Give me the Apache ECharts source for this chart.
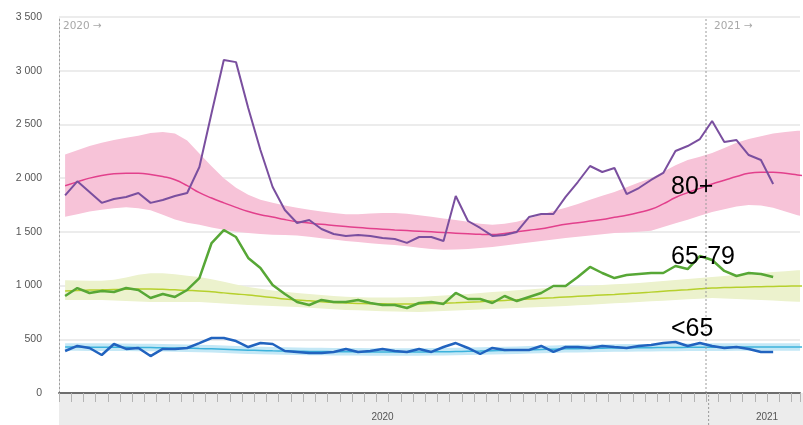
<!DOCTYPE html>
<html>
<head>
<meta charset="utf-8">
<script src="https://cdn.jsdelivr.net/npm/echarts/dist/echarts.min.js"></script>
<style>
html,body{margin:0;padding:0;background:#ffffff;}
#chart{width:803px;height:425px;}
</style>
</head>
<body>
<div id="chart"></div>
<script>
// ---- data (weekly deaths, index 0 = week 1 of 2020; index 53 = week 1 of 2021) ----
const yearLabels = ['2020', '2021'];
const yearLabelAt = [26.5, 58];
const yearStart2021 = 53;

const obs80 = [1840,1970,1870,1770,1806,1825,1862,1770,1797,1834,
  1862,2104,2606,3100,3080,2653,2262,1918,1704,1583,
  1610,1527,1480,1462,1471,1462,1443,1434,1397,1452,
  1452,1415,1834,1601,1536,1462,1471,1499,1638,1666,
  1666,1825,1964,2113,2057,2094,1852,1908,1983,2048,
  2253,2299,2364,2532,2336,2355,2215,2169,1945];
const base80 = [1930,1965,2000,2025,2040,2045,2045,2035,2015,1985,
  1930,1865,1815,1770,1728,1690,1660,1638,1614,1595,
  1582,1570,1560,1550,1540,1532,1525,1518,1512,1506,
  1500,1494,1488,1482,1477,1475,1485,1500,1515,1530,
  1550,1570,1585,1600,1615,1635,1655,1680,1710,1760,
  1820,1865,1905,1945,1980,2015,2045,2055,2055,2045,
  2030,2015];
const hi80 = [2220,2260,2300,2330,2355,2375,2395,2420,2430,2415,
  2350,2230,2110,2000,1910,1845,1800,1770,1745,1725,
  1705,1690,1675,1665,1665,1670,1675,1675,1668,1655,
  1640,1625,1610,1595,1575,1565,1575,1595,1625,1660,
  1695,1725,1760,1800,1835,1870,1915,1960,2000,2060,
  2120,2170,2200,2235,2280,2330,2365,2390,2415,2430,
  2440,2445];
const lo80 = [1640,1665,1690,1705,1720,1730,1720,1700,1660,1615,
  1585,1565,1540,1520,1500,1490,1480,1472,1470,1465,
  1455,1440,1428,1415,1405,1395,1385,1378,1365,1352,
  1340,1333,1335,1340,1350,1360,1372,1387,1400,1415,
  1430,1443,1455,1467,1478,1489,1495,1502,1510,1545,
  1580,1612,1650,1685,1710,1735,1750,1745,1725,1690,
  1655,1625];

const obs6579 = [903,977,931,950,940,977,959,884,921,894,
  959,1070,1396,1517,1452,1257,1164,1005,921,847,
  819,866,847,847,866,838,819,819,791,838,
  847,829,931,875,875,838,903,856,894,931,
  996,996,1080,1173,1117,1070,1098,1108,1117,1117,
  1182,1154,1275,1238,1136,1089,1117,1108,1080];
const base6579 = [950,955,958,960,963,965,967,968,965,960,
  955,950,942,932,922,912,900,888,876,866,
  858,850,843,838,834,831,830,829,829,829,
  832,836,840,845,850,856,862,868,875,881,
  887,894,900,906,912,918,925,931,939,947,
  955,962,970,977,981,984,987,990,992,994,
  996,997];
const hi6579 = [1050,1048,1045,1045,1055,1075,1100,1115,1115,1105,
  1092,1080,1060,1035,1010,987,970,955,942,931,
  922,912,902,895,892,890,890,890,892,894,
  900,907,915,922,931,940,948,956,964,972,
  980,987,993,999,1005,1012,1018,1024,1033,1042,
  1052,1062,1071,1080,1090,1100,1110,1118,1126,1134,
  1142,1148];
const lo6579 = [866,866,866,866,862,857,852,847,847,847,
  847,847,840,833,826,819,814,810,805,801,
  794,787,780,773,770,766,762,759,756,754,
  759,763,768,773,777,782,787,791,796,801,
  805,810,816,822,828,835,841,847,853,859,
  866,872,878,884,880,875,870,865,860,855,
  850,846];

const obsU65 = [391,438,419,354,456,410,419,344,410,410,
  419,465,512,512,484,428,465,456,391,382,
  372,372,382,410,382,391,410,391,382,410,
  382,428,465,419,363,419,400,400,400,438,
  382,428,428,419,438,428,419,438,447,465,
  475,438,465,438,419,428,410,382,382];
const baseU65 = [428,428,427,427,426,425,424,423,421,419,
  417,414,411,407,403,399,396,393,391,389,
  387,386,385,384,383,382,382,382,382,382,
  383,384,386,388,390,393,396,399,402,405,
  408,411,413,415,417,419,420,421,422,423,
  424,425,426,427,427,428,428,428,428,428,
  428,428];
const hiU65 = [463,463,462,462,461,460,459,458,456,454,
  452,449,446,442,438,434,431,428,426,424,
  422,421,420,419,418,417,417,417,417,417,
  418,419,421,423,425,428,431,434,437,440,
  443,446,448,450,452,454,455,456,457,458,
  459,460,461,462,462,463,463,463,463,463,
  463,463];
const loU65 = [393,393,392,392,391,390,389,388,386,384,
  382,379,376,372,368,364,361,358,356,354,
  352,351,350,349,348,347,347,347,347,347,
  348,349,351,353,355,358,361,364,367,370,
  373,376,378,380,382,384,385,386,387,388,
  389,390,391,392,392,393,393,393,393,393,
  393,393];

// ---- helpers ----
const FONT = "'Liberation Sans', Arial, sans-serif";
const X_MAX = 60.7;
function pts(arr) { return arr.map(function (v, i) { return [i + 0.5, v]; }); }

function band(lo, hi, color) {
  return {
    type: 'custom', xAxisIndex: 0, yAxisIndex: 0, silent: true, z: 1,
    data: lo.map(function (v, i) { return [i + 0.5, v, hi[i]]; }),
    encode: { x: 0, y: [1, 2] },
    renderItem: function (params, api) {
      if (params.dataIndex !== 0) return null;
      const top = [], bot = [];
      for (let i = 0; i < lo.length; i++) {
        top.push(api.coord([i + 0.5, hi[i]]));
        bot.push(api.coord([i + 0.5, lo[i]]));
      }
      const cs = params.coordSys;
      return {
        type: 'polygon',
        shape: { points: top.concat(bot.reverse()) },
        style: { fill: color },
        clipPath: { type: 'rect', shape: { x: cs.x, y: cs.y, width: cs.width, height: cs.height } }
      };
    }
  };
}
function line(arr, color, width, smooth, z) {
  return {
    type: 'line', xAxisIndex: 0, yAxisIndex: 0, data: pts(arr),
    symbol: 'none', smooth: smooth, z: z, silent: true,
    lineStyle: { color: color, width: width }
  };
}

const chart = echarts.init(document.getElementById('chart'), null, { renderer: 'canvas' });
chart.setOption({
  animation: false,
  backgroundColor: '#ffffff',
  textStyle: { fontFamily: FONT },
  grid: [
    { left: 59, right: 0, top: 17, bottom: 32 },
    { left: 59, right: 0, top: 393, bottom: 0, show: true, backgroundColor: '#ececec', borderWidth: 0, z: 0 }
  ],
  xAxis: [
    {
      gridIndex: 0, type: 'value', position: 'bottom', min: 0, max: X_MAX, interval: 1, z: 5,
      axisLine: { show: true, lineStyle: { color: '#6e6e6e', width: 2 } },
      axisTick: { show: true, length: 9, lineStyle: { color: '#b4b4b4', width: 1 } },
      axisLabel: { show: false },
      splitLine: { show: false }
    },
    {
      gridIndex: 0, type: 'value', position: 'bottom', offset: 0, min: 0, max: X_MAX, interval: 0.5, z: 5,
      axisLine: { show: false }, axisTick: { show: false }, splitLine: { show: false },
      axisLabel: {
        show: true, margin: 19, color: '#555555', fontSize: 10, fontFamily: FONT,
        formatter: function (v) {
          for (let k = 0; k < yearLabelAt.length; k++) {
            if (Math.abs(v - yearLabelAt[k]) < 1e-6) return yearLabels[k];
          }
          return '';
        }
      }
    },
    { gridIndex: 1, type: 'value', min: 0, max: X_MAX, show: false }
  ],
  yAxis: [
    {
      gridIndex: 0, type: 'value', min: 0, max: 3500, interval: 500,
      axisLine: { show: true, lineStyle: { color: '#a0a0a0', width: 1, type: [2, 2] } },
      axisTick: { show: false },
      axisLabel: {
        margin: 17, color: '#555555', fontSize: 10.5, fontFamily: FONT,
        formatter: function (v) { return String(v).replace(/\B(?=(\d{3})+(?!\d))/g, ' '); }
      },
      splitLine: { show: true, lineStyle: { color: '#e6e6e6', width: 1.5 } }
    },
    { gridIndex: 1, type: 'value', min: 0, max: 1, show: false }
  ],
  series: [
    band(lo80, hi80, '#f7c3d8'),
    band(lo6579, hi6579, '#ecf2cd'),
    band(loU65, hiU65, '#c4e8f6'),
    line(base80, '#e2408c', 1.5, true, 2),
    line(base6579, '#b6d02c', 1.5, true, 2),
    line(baseU65, '#3cb2dc', 1.5, true, 2),
    {
      type: 'line', xAxisIndex: 0, yAxisIndex: 0, symbol: 'none', silent: true, z: 2, clip: false,
      data: [[yearStart2021, 0], [yearStart2021, 3500]],
      lineStyle: { color: '#9a9a9a', width: 1, type: [2, 2] }
    },
    {
      type: 'line', xAxisIndex: 2, yAxisIndex: 1, symbol: 'none', silent: true, z: 2,
      data: [[yearStart2021, 0], [yearStart2021, 1]],
      lineStyle: { color: '#9a9a9a', width: 1, type: [2, 2] }
    },
    line(obs80, '#7a4f9f', 2, false, 3),
    line(obs6579, '#57a736', 2.5, false, 3),
    line(obsU65, '#2163bf', 2.5, false, 3)
  ],
  graphic: [
    { type: 'text', left: 63, top: 21, z: 10, style: { text: '2020 →', fill: '#a8a8a8', font: "10.5px 'DejaVu Sans', sans-serif" } },
    { type: 'text', left: 714, top: 21, z: 10, style: { text: '2021 →', fill: '#a8a8a8', font: "10.5px 'DejaVu Sans', sans-serif" } },
    { type: 'text', left: 671, top: 175, z: 10, style: { text: '80+', fill: '#000000', font: '25px ' + FONT } },
    { type: 'text', left: 671, top: 245, z: 10, style: { text: '65-79', fill: '#000000', font: '25px ' + FONT } },
    { type: 'text', left: 671, top: 317, z: 10, style: { text: '<65', fill: '#000000', font: '25px ' + FONT } }
  ]
});
</script>
</body>
</html>
